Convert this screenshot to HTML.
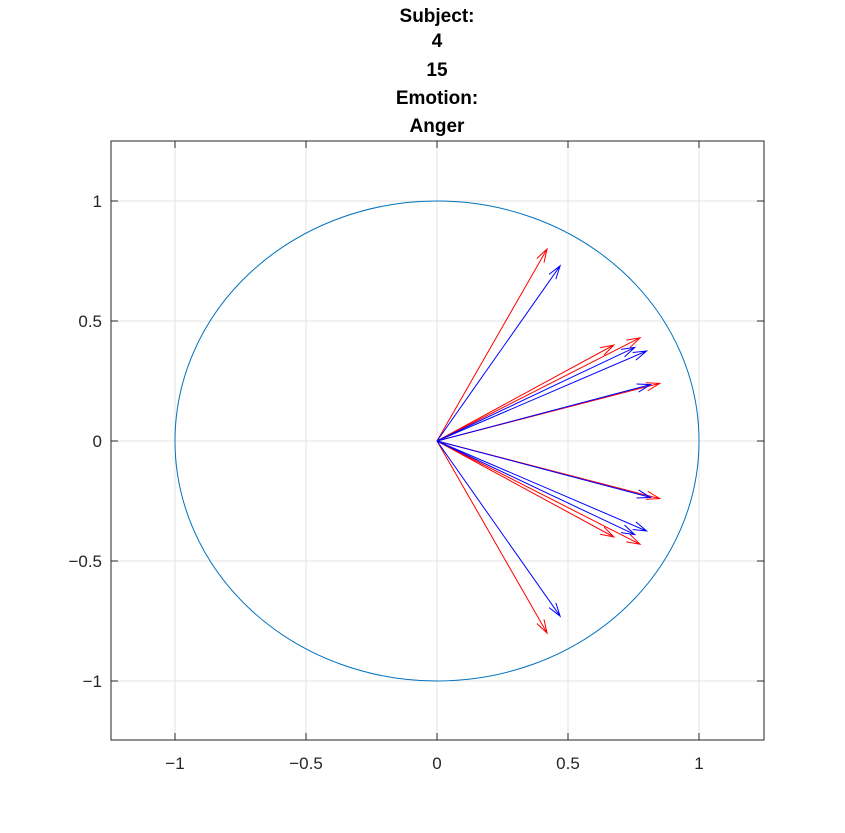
<!DOCTYPE html>
<html><head><meta charset="utf-8"><style>
body{margin:0;background:#fff;}
svg{display:block;font-family:"Liberation Sans",sans-serif;}
</style></head><body>
<svg id="chart" width="845" height="833">
<rect width="845" height="833" fill="#fff"/>
<g font-weight="bold" font-size="19" text-anchor="middle" fill="#000">
<text x="437" y="22">Subject:</text><text x="437" y="47">4</text><text x="437" y="76">15</text><text x="437" y="104">Emotion:</text><text x="437" y="132">Anger</text>
</g>
<g id="grid"></g>
<g id="circle"></g>
<g id="arrows"></g>
<rect x="111" y="141" width="653" height="599" fill="none" stroke="#262626" stroke-width="1"/>
<g id="ticks"></g>
</svg>
<script>
const xTicks=[-1,-0.5,0,0.5,1];
const yTicks=[-1,-0.5,0,0.5,1];
const xTickLabels=["\u22121","\u22120.5","0","0.5","1"];
const yTickLabels=["\u22121","\u22120.5","0","0.5","1"];
const redX=[0.42,0.775,0.675,0.85,0.85,0.675,0.775,0.42];
const redY=[0.80,0.43,0.40,0.24,-0.24,-0.40,-0.43,-0.80];
const blueX=[0.47,0.755,0.80,0.815,0.815,0.80,0.755,0.47];
const blueY=[0.73,0.39,0.375,0.235,-0.235,-0.375,-0.39,-0.73];
const sx=v=>437+v*262, sy=v=>441-v*240;
const NS="http://www.w3.org/2000/svg";
function mk(t,a,p){const e=document.createElementNS(NS,t);for(const k in a)e.setAttribute(k,a[k]);p.appendChild(e);return e;}
const grid=document.getElementById('grid'),ticks=document.getElementById('ticks');
xTicks.forEach((v,i)=>{
 const g=mk('line',{x1:sx(v),x2:sx(v),y1:141,y2:740,stroke:'#e3e3e3'},grid);
 
 
 mk('line',{x1:sx(v),x2:sx(v),y1:740,y2:733,stroke:'#262626'},ticks);
 mk('line',{x1:sx(v),x2:sx(v),y1:141,y2:148,stroke:'#262626'},ticks);
 const t=mk('text',{x:sx(v),y:769,'text-anchor':'middle','font-size':17,fill:'#262626'},ticks);
 t.textContent=xTickLabels[i];
 
 
});
yTicks.forEach((v,i)=>{
 const g=mk('line',{x1:111,x2:764,y1:sy(v),y2:sy(v),stroke:'#e3e3e3'},grid);
 
 
 mk('line',{x1:111,x2:118,y1:sy(v),y2:sy(v),stroke:'#262626'},ticks);
 mk('line',{x1:764,x2:757,y1:sy(v),y2:sy(v),stroke:'#262626'},ticks);
 const t=mk('text',{x:102,y:sy(v)+6,'text-anchor':'end','font-size':17,fill:'#262626'},ticks);
 t.textContent=yTickLabels[i];
 
 
});
const c=mk('ellipse',{cx:sx(0),cy:sy(0),rx:262,ry:240,fill:'none',stroke:'#0072bd','stroke-width':1},document.getElementById('circle'));


const arrows=document.getElementById('arrows');
function arrow(x,y,col,name){
 const x0=sx(0),y0=sy(0),x1=sx(x),y1=sy(y);
 const ang=Math.atan2(y1-y0,x1-x0),L=14,w=0.3;
 const d=`M${x0},${y0}L${x1},${y1}M${x1-L*Math.cos(ang-w)},${y1-L*Math.sin(ang-w)}L${x1},${y1}L${x1-L*Math.cos(ang+w)},${y1-L*Math.sin(ang+w)}`;
 const p=mk('path',{d:d,fill:'none',stroke:col,'stroke-width':1},arrows);
 
 
}
redX.forEach((v,i)=>arrow(v,redY[i],'#ff0000','red-arrow'));
blueX.forEach((v,i)=>arrow(v,blueY[i],'#0000ff','blue-arrow'));
</script>
</body></html>
